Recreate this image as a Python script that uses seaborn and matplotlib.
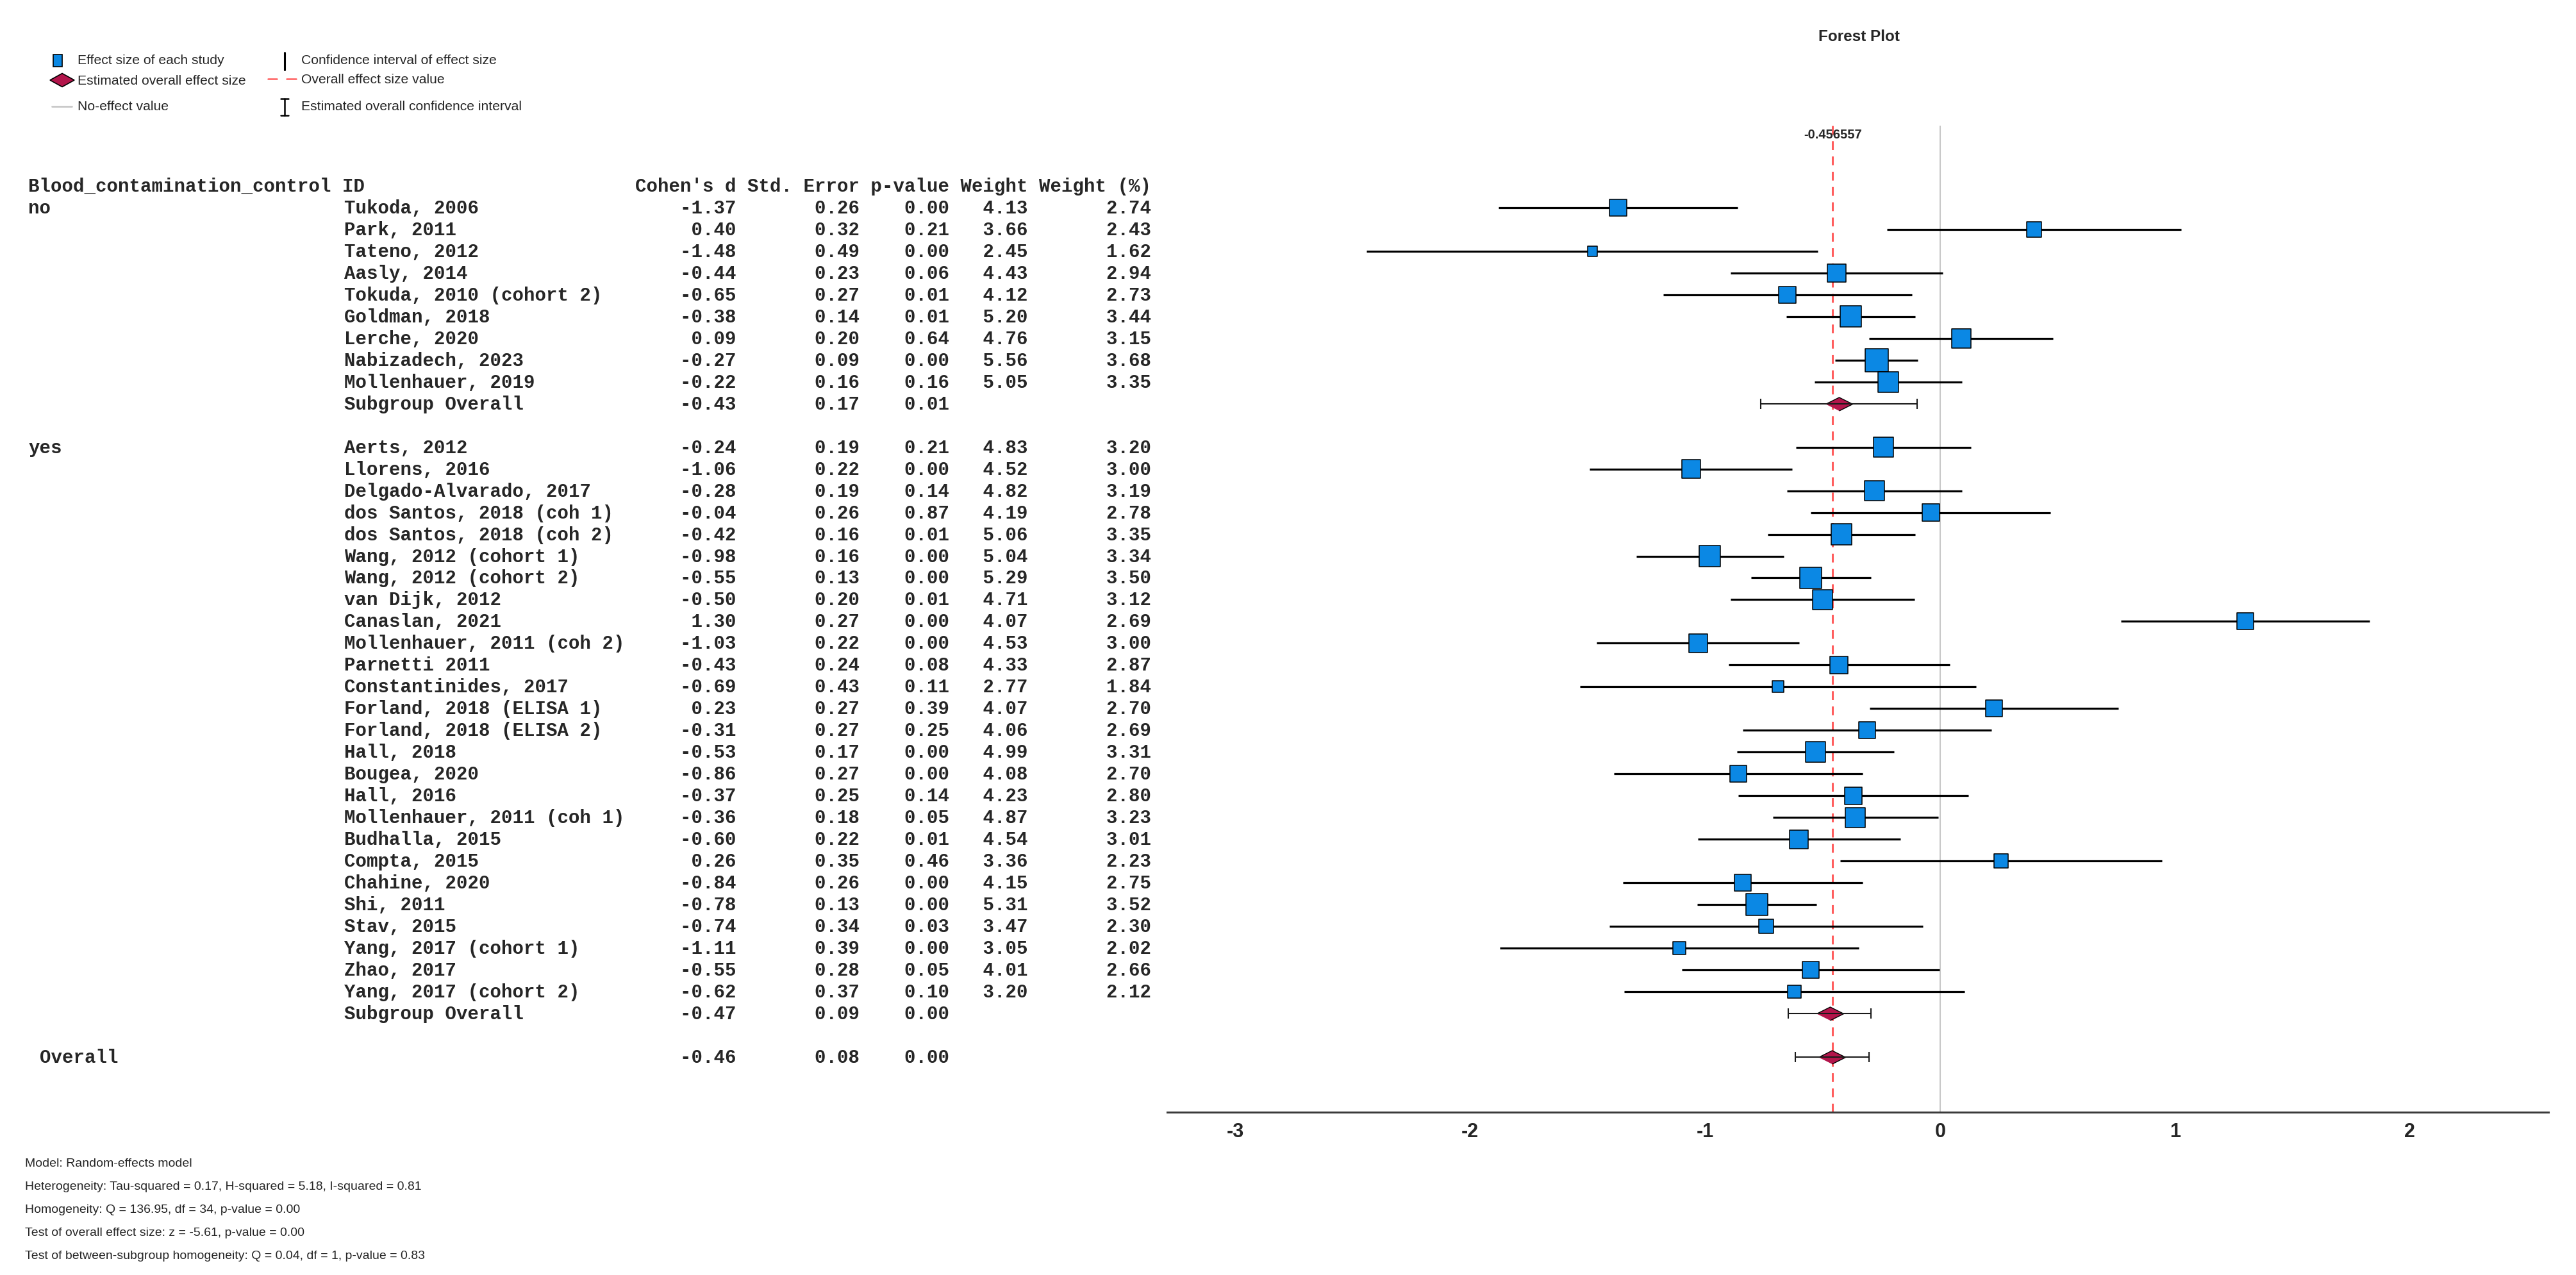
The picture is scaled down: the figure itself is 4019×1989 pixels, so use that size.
import numpy as np
import pandas as pd
import matplotlib
matplotlib.use("Agg")
import matplotlib.pyplot as plt
import seaborn as sns
from matplotlib.transforms import blended_transform_factory
from matplotlib.patches import Rectangle, Polygon
from matplotlib.lines import Line2D

# ---------------- data ----------------
group_header = "Blood_contamination_control"
group_labels = ["no", "yes"]

ids_no = ["Tukoda, 2006", "Park, 2011", "Tateno, 2012", "Aasly, 2014",
          "Tokuda, 2010 (cohort 2)", "Goldman, 2018", "Lerche, 2020",
          "Nabizadech, 2023", "Mollenhauer, 2019"]
d_no = [-1.37, 0.40, -1.48, -0.44, -0.65, -0.38, 0.09, -0.27, -0.22]
se_no = [0.26, 0.32, 0.49, 0.23, 0.27, 0.14, 0.20, 0.09, 0.16]
p_no = [0.00, 0.21, 0.00, 0.06, 0.01, 0.01, 0.64, 0.00, 0.16]
w_no = [4.13, 3.66, 2.45, 4.43, 4.12, 5.20, 4.76, 5.56, 5.05]
wp_no = [2.74, 2.43, 1.62, 2.94, 2.73, 3.44, 3.15, 3.68, 3.35]

ids_yes = ["Aerts, 2012", "Llorens, 2016", "Delgado-Alvarado, 2017",
           "dos Santos, 2018 (coh 1)", "dos Santos, 2018 (coh 2)",
           "Wang, 2012 (cohort 1)", "Wang, 2012 (cohort 2)", "van Dijk, 2012",
           "Canaslan, 2021", "Mollenhauer, 2011 (coh 2)", "Parnetti 2011",
           "Constantinides, 2017", "Forland, 2018 (ELISA 1)",
           "Forland, 2018 (ELISA 2)", "Hall, 2018", "Bougea, 2020", "Hall, 2016",
           "Mollenhauer, 2011 (coh 1)", "Budhalla, 2015", "Compta, 2015",
           "Chahine, 2020", "Shi, 2011", "Stav, 2015", "Yang, 2017 (cohort 1)",
           "Zhao, 2017", "Yang, 2017 (cohort 2)"]
d_yes = [-0.24, -1.06, -0.28, -0.04, -0.42, -0.98, -0.55, -0.50, 1.30, -1.03,
         -0.43, -0.69, 0.23, -0.31, -0.53, -0.86, -0.37, -0.36, -0.60, 0.26,
         -0.84, -0.78, -0.74, -1.11, -0.55, -0.62]
se_yes = [0.19, 0.22, 0.19, 0.26, 0.16, 0.16, 0.13, 0.20, 0.27, 0.22, 0.24,
          0.43, 0.27, 0.27, 0.17, 0.27, 0.25, 0.18, 0.22, 0.35, 0.26, 0.13,
          0.34, 0.39, 0.28, 0.37]
p_yes = [0.21, 0.00, 0.14, 0.87, 0.01, 0.00, 0.00, 0.01, 0.00, 0.00, 0.08,
         0.11, 0.39, 0.25, 0.00, 0.00, 0.14, 0.05, 0.01, 0.46, 0.00, 0.00,
         0.03, 0.00, 0.05, 0.10]
w_yes = [4.83, 4.52, 4.82, 4.19, 5.06, 5.04, 5.29, 4.71, 4.07, 4.53, 4.33,
         2.77, 4.07, 4.06, 4.99, 4.08, 4.23, 4.87, 4.54, 3.36, 4.15, 5.31,
         3.47, 3.05, 4.01, 3.20]
wp_yes = [3.20, 3.00, 3.19, 2.78, 3.35, 3.34, 3.50, 3.12, 2.69, 3.00, 2.87,
          1.84, 2.70, 2.69, 3.31, 2.70, 2.80, 3.23, 3.01, 2.23, 2.75, 3.52,
          2.30, 2.02, 2.66, 2.12]

sub_label = "Subgroup Overall"
sub_d = [-0.43, -0.47]
sub_se = [0.17, 0.09]
sub_p = [0.01, 0.00]

overall_label = "Overall"
overall_d = -0.46
overall_se = 0.08
overall_p = 0.00
overall_line = -0.456557

xticks = [-3, -2, -1, 0, 1, 2]
column_header = "Cohen's d Std. Error p-value Weight Weight (%)"
title = "Forest Plot"
legend_left = ["Effect size of each study", "Estimated overall effect size",
               "No-effect value"]
legend_right = ["Confidence interval of effect size", "Overall effect size value",
                "Estimated overall confidence interval"]
notes = ["Model: Random-effects model",
         "Heterogeneity: Tau-squared = 0.17, H-squared = 5.18, I-squared = 0.81",
         "Homogeneity: Q = 136.95, df = 34, p-value = 0.00",
         "Test of overall effect size: z = -5.61, p-value = 0.00",
         "Test of between-subgroup homogeneity: Q = 0.04, df = 1, p-value = 0.83"]

# ---------------- tables ----------------
groups = [
    (group_labels[0], ids_no, d_no, se_no, p_no, w_no, wp_no),
    (group_labels[1], ids_yes, d_yes, se_yes, p_yes, w_yes, wp_yes),
]
study_rows, sub_rows = [], []
r = 1
for gi, (g, ids, d, se, p, w, wp) in enumerate(groups):
    for k in range(len(ids)):
        study_rows.append(dict(row=r, group=g if k == 0 else "", id=ids[k], d=d[k],
                               se=se[k], p=p[k], w=w[k], wp=wp[k]))
        r += 1
    sub_rows.append(dict(row=r, id=sub_label, d=sub_d[gi], se=sub_se[gi], p=sub_p[gi]))
    r += 2
overall_row = r
studies = pd.DataFrame(study_rows)
subs = pd.DataFrame(sub_rows)
summ = pd.concat([subs, pd.DataFrame([dict(row=overall_row, id=overall_label,
                                           d=overall_d, se=overall_se, p=overall_p)])],
                 ignore_index=True)
studies["lo"] = studies["d"] - 1.96 * studies["se"]
studies["hi"] = studies["d"] + 1.96 * studies["se"]
# square side grows with weight (pixels -> points)
studies["side_pt"] = (6.4 * studies["w"]) * 0.72
studies["area"] = studies["side_pt"] ** 2

# ---------------- style ----------------
sns.set_theme(style="white")
SANS = ["Liberation Sans", "DejaVu Sans"]
MONO = ["Liberation Mono", "DejaVu Sans Mono"]
plt.rcParams["font.family"] = SANS
plt.rcParams["axes.unicode_minus"] = False

W, H = 4019, 1990
fig = plt.figure(figsize=(W / 100, H / 100), dpi=100)
fig.patch.set_facecolor("white")

# pixel-space overlay for text and legend
lax = fig.add_axes([0, 0, 1, 1])
lax.set_xlim(0, W)
lax.set_ylim(H, 0)
lax.axis("off")

# forest plot axes (row 1 at y=325px, 33.97 px per row)
x0, x1, ytop, ybot = 1821, 3976, 197, 1736
row_px = 33.97
ax = fig.add_axes([x0 / W, 1 - ybot / H, (x1 - x0) / W, (ybot - ytop) / H])
ax.set_facecolor("none")
ax.set_xlim(-3.29, 2.59)
ax.set_ylim(1 + (ybot - 325) / row_px, 1 - (325 - ytop) / row_px)

BLUE = "#0b88e4"
CRIMSON = "#b3154b"
RED = "#ff5e5e"
GRAY = "#c8c8c8"

ax.axvline(0, color=GRAY, lw=1.5, zorder=0)
ax.axvline(overall_line, color=RED, lw=2.2, dashes=(4.5, 3.3), zorder=1)

ax.hlines(studies["row"], studies["lo"], studies["hi"], color="black", lw=2.3, zorder=2)
sns.scatterplot(data=studies, x="d", y="row", marker="s", s=studies["area"].values,
                color=BLUE, edgecolor="black", linewidth=1.1, ax=ax, zorder=3,
                legend=False)

diamond = [(-2, 0), (0, 1), (2, 0), (0, -1)]
sns.scatterplot(data=summ, x="d", y="row", marker=diamond, s=(42 * 0.72) ** 2,
                color=CRIMSON, edgecolor="black", linewidth=1.0, ax=ax, zorder=3,
                legend=False)
ax.errorbar(summ["d"], summ["row"], xerr=1.96 * summ["se"], fmt="none",
            ecolor="#1a1a1a", elinewidth=1.5, capsize=6, capthick=1.5, zorder=4)

ax.text(overall_line, 1 - (211 - ytop) / (ybot - ytop), f"{overall_line:.6f}",
        transform=blended_transform_factory(ax.transData, ax.transAxes),
        ha="center", va="center", fontsize=14.5, fontweight="bold", zorder=5)

for s in ["top", "left", "right"]:
    ax.spines[s].set_visible(False)
ax.spines["bottom"].set_color("#3a3a3a")
ax.spines["bottom"].set_linewidth(2.2)
ax.set_yticks([])
ax.set_xticks(xticks)
ax.set_xticklabels([str(t) for t in xticks], fontsize=22, fontweight="bold")
ax.tick_params(axis="x", length=0, pad=11)
ax.set_xlabel("")
ax.set_ylabel("")

# ---------------- table text ----------------
tt = blended_transform_factory(lax.transData, ax.transData)
mono = dict(family=MONO, fontsize=21, fontweight="bold", va="center", transform=tt)
lax.text(44, 0, f"{group_header} ID", **mono)
lax.text(991, 0, column_header, **mono)
for _, rw in studies.iterrows():
    if rw["group"]:
        lax.text(44, rw["row"], rw["group"], **mono)
    lax.text(537, rw["row"], rw["id"], **mono)
    lax.text(991, rw["row"],
             f"{rw['d']:9.2f} {rw['se']:10.2f} {rw['p']:7.2f} {rw['w']:6.2f} {rw['wp']:10.2f}",
             **mono)
for _, rw in subs.iterrows():
    lax.text(537, rw["row"], rw["id"], **mono)
    lax.text(991, rw["row"], f"{rw['d']:9.2f} {rw['se']:10.2f} {rw['p']:7.2f}", **mono)
lax.text(62, overall_row, overall_label, **mono)
lax.text(991, overall_row, f"{overall_d:9.2f} {overall_se:10.2f} {overall_p:7.2f}", **mono)

# ---------------- title, legend, notes ----------------
lax.text(2900, 57, title, ha="center", va="center", fontsize=17.5, fontweight="bold")

lfs = 15.2
for txt, y in zip(legend_left, [95, 126, 167]):
    lax.text(121, y, txt, ha="left", va="center", fontsize=lfs)
for txt, y in zip(legend_right, [95, 124, 167]):
    lax.text(470, y, txt, ha="left", va="center", fontsize=lfs)
lax.add_patch(Rectangle((83, 86), 14, 19, facecolor=BLUE, edgecolor="black", lw=1.2))
lax.add_patch(Polygon([(78, 126), (97, 115.5), (116, 126), (97, 136.5)], closed=True,
                      facecolor=CRIMSON, edgecolor="black", lw=1.2))
lax.add_line(Line2D([81, 112], [167, 167], color=GRAY, lw=2))
lax.add_line(Line2D([444, 444], [83, 110], color="black", lw=2.2))
lax.add_line(Line2D([418, 432], [124, 124], color=RED, lw=1.8))
lax.add_line(Line2D([447, 462], [124, 124], color=RED, lw=1.8))
lax.add_line(Line2D([444, 444], [155, 181], color="black", lw=1.8))
lax.add_line(Line2D([438, 450], [155, 155], color="black", lw=1.8))
lax.add_line(Line2D([438, 450], [181, 181], color="black", lw=1.8))

for i, txt in enumerate(notes):
    lax.text(39, 1816 + 36 * i, txt, ha="left", va="center", fontsize=14)

fig.savefig("out.png", dpi=100, facecolor="white")
